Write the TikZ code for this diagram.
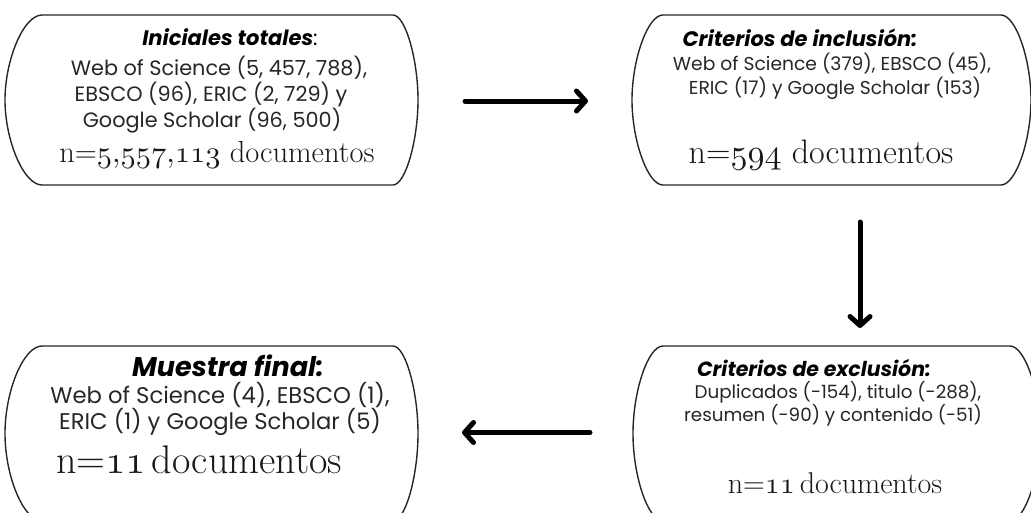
\documentclass[tikz,border=0pt]{standalone}
\usepackage{fontspec}
\newfontfamily\pop{Poppins}
\usetikzlibrary{arrows.meta}
\newcommand\fs[1]{\fontsize{#1}{#1}\selectfont}
\newcommand\num[2]{{\font\osfx=cmmi10 at #1pt\osfx #2}}
\newcommand\cm{\char59 }
\newcommand\stadiumoutline[3]{%
  \draw[boxline] ([xshift=#2]#1.north west) -- ([xshift=-#3]#1.north east)
   .. controls ([xshift=-#3*0.5]#1.north east) and ([yshift=-45pt]#1.north east) .. (#1.east)
   .. controls ([yshift=45pt]#1.south east) and ([xshift=-#3*0.5]#1.south east) .. ([xshift=-#3]#1.south east)
   -- ([xshift=#2]#1.south west)
   .. controls ([xshift=#2*0.5]#1.south west) and ([yshift=45pt]#1.south west) .. (#1.west)
   .. controls ([yshift=-45pt]#1.north west) and ([xshift=#2*0.5]#1.north west) .. cycle;}
\tikzset{
  boxline/.style={line width=1.4pt, draw=black!85, line join=round},
  frame/.style={inner sep=0pt, outer sep=0pt, draw=none},
  ttl/.style={anchor=base, inner sep=0pt, font=\pop\bfseries\itshape\fs{#1}},
  txt/.style={anchor=base, inner sep=0pt, font=\pop\fs{#1}, text=black!85},
  nn/.style={anchor=base, inner sep=0pt, font=\fs{#1}, text=black!90},
  arr/.style={line width=5pt, line cap=round, -{Straight Barb[length=9pt,width=20pt,round]}},
}
\begin{document}
\begin{tikzpicture}[x=1pt,y=-1pt]
\useasboundingbox (0,0) rectangle (1031,512);
\clip (0,0) rectangle (1031,512);
% box frames
\node[frame, minimum width=413pt, minimum height=170pt] (tl) at (211.5,100) {};
\node[frame, minimum width=399pt, minimum height=170pt] (tr) at (831.5,100) {};
\node[frame, minimum width=413pt, minimum height=175pt] (bl) at (211.5,433.5) {};
\node[frame, minimum width=407pt, minimum height=175pt] (br) at (836.5,433.5) {};
\stadiumoutline{tl}{37pt}{25pt}
\stadiumoutline{tr}{31pt}{30pt}
\stadiumoutline{bl}{37pt}{25pt}
\stadiumoutline{br}{30pt}{30pt}
% top-left text
\node[ttl=21] (tl1) at (230,45) {Iniciales totales\normalfont\pop:};
\node[txt=20.8] (tl2) at (219,75) {Web of Science (5, 457, 788),};
\node[txt=20.8] (tl3) at (211,101) {EBSCO (96), ERIC (2, 729) y};
\node[txt=20.8] (tl4) at (212,127) {Google Scholar (96, 500)};
\node[nn=30.5] (tln) at (217,162) {n=\num{30.5}{5\cm557\cm113} documentos};
% top-right text
\node[ttl=21] (tr1) at (800,46) {Criterios de inclusión:};
\node[txt=18.7] (tr2) at (832,70) {Web of Science (379), EBSCO (45),};
\node[txt=18.7] (tr3) at (835,94) {ERIC (17) y Google Scholar (153)};
\node[nn=34] (trn) at (821,163) {n=\num{34}{594} documentos};
% bottom-left text
\node[ttl=27] (bl1) at (228,376) {Muestra final:};
\node[txt=22.7] (bl2) at (220,403) {Web of Science (4), EBSCO (1),};
\node[txt=22.7] (bl3) at (220,429) {ERIC (1) y Google Scholar (5)};
\node[nn=40] (bln) at (199,473) {n=\num{40}{11}\,documentos};
% bottom-right text
\node[ttl=20.5] (br1) at (814,376) {Criterios de exclusión:};
\node[txt=18.3] (br2) at (838,398) {Duplicados (-154), titulo (-288),};
\node[txt=18.3] (br3) at (833,421) {resumen (-90) y contenido (-51)};
\node[nn=30] (brn) at (835,493) {n=\num{30}{11}\,documentos};
% arrows
\draw[arr] ([xshift=47pt,yshift=-1pt]tl.east) -- ([xshift=-44pt,yshift=-1pt]tr.west);
\draw[arr] ([xshift=28.5pt,yshift=-37pt]tr.south) -- ([xshift=23.5pt,yshift=18pt]br.north);
\draw[arr] ([xshift=-43pt,yshift=1pt]br.west) -- ([xshift=44pt,yshift=1pt]bl.east);
\end{tikzpicture}
\end{document}
